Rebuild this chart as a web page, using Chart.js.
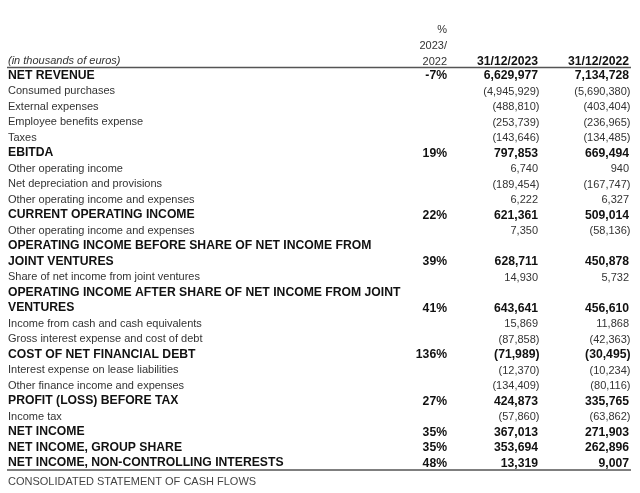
<!DOCTYPE html>
<html><head><meta charset="utf-8">
<script src="https://cdn.jsdelivr.net/npm/chart.js@4.4.1/dist/chart.umd.min.js"></script>
<style>html,body{margin:0;padding:0;background:#fff;}canvas{display:block;}</style>
</head><body>
<canvas id="c" width="640" height="493"></canvas>
<script>
// ---- data ----
const rowLabels = [
  'NET REVENUE',
  'Consumed purchases',
  'External expenses',
  'Employee benefits expense',
  'Taxes',
  'EBITDA',
  'Other operating income',
  'Net depreciation and provisions',
  'Other operating income and expenses',
  'CURRENT OPERATING INCOME',
  'Other operating income and expenses',
  'OPERATING INCOME BEFORE SHARE OF NET INCOME FROM',
  'JOINT VENTURES',
  'Share of net income from joint ventures',
  'OPERATING INCOME AFTER SHARE OF NET INCOME FROM JOINT',
  'VENTURES',
  'Income from cash and cash equivalents',
  'Gross interest expense and cost of debt',
  'COST OF NET FINANCIAL DEBT',
  'Interest expense on lease liabilities',
  'Other finance income and expenses',
  'PROFIT (LOSS) BEFORE TAX',
  'Income tax',
  'NET INCOME',
  'NET INCOME, GROUP SHARE',
  'NET INCOME, NON-CONTROLLING INTERESTS'
];
const isTotal = [true,false,false,false,false,true,false,false,false,true,false,true,true,false,true,true,false,false,true,false,false,true,false,true,true,true];
const pctChange = [-7,null,null,null,null,19,null,null,null,22,null,null,39,null,null,41,null,null,136,null,null,27,null,35,35,48];
const values2023 = [6629977,-4945929,-488810,-253739,-143646,797853,6740,-189454,6222,621361,7350,null,628711,14930,null,643641,15869,-87858,-71989,-12370,-134409,424873,-57860,367013,353694,13319];
const values2022 = [7134728,-5690380,-403404,-236965,-134485,669494,940,-167747,6327,509014,-58136,null,450878,5732,null,456610,11868,-42363,-30495,-10234,-80116,335765,-63862,271903,262896,9007];
const columnHeaders = [['%','2023/','2022'], '31/12/2023', '31/12/2022'];
const unitNote = '(in thousands of euros)';
const footerNote = 'CONSOLIDATED STATEMENT OF CASH FLOWS';

// ---- helpers ----
const FAMILY = 'Arial, "Liberation Sans", sans-serif';
const fmtAmount = v => {
  const s = Math.abs(v).toLocaleString('en-US');
  return v < 0 ? '(' + s + ')' : s;
};
const fmtPct = v => v + '%';

function columnData(arr, col, fmt) {
  const out = [];
  arr.forEach((v, i) => {
    if (v !== null && v !== undefined) out.push({x: col, y: i, t: fmt(v), neg: v < 0 && fmt === fmtAmount, bold: isTotal[i]});
  });
  return out;
}

const cellText = {
  id: 'cellText',
  afterDatasetsDraw(chart) {
    const ctx = chart.ctx;
    ctx.save();
    ctx.textAlign = 'right';
    ctx.textBaseline = 'middle';
    chart.data.datasets.forEach((ds, di) => {
      const meta = chart.getDatasetMeta(di);
      meta.data.forEach((el, j) => {
        const d = ds.data[j];
        ctx.font = (d.bold ? 'bold 12.2px ' : '11px ') + FAMILY;
        ctx.fillStyle = d.bold ? '#111' : '#333';
        ctx.fillText(d.t, el.x + (d.neg ? 1.5 : 0), el.y + 0.5);
      });
    });
    const a = chart.chartArea;
    ctx.strokeStyle = '#555';
    ctx.lineWidth = 1.5;
    ctx.beginPath();
    ctx.moveTo(7, a.top - 8); ctx.lineTo(631, a.top - 8);
    ctx.moveTo(7, a.bottom + 7); ctx.lineTo(631, a.bottom + 7);
    ctx.stroke();
    ctx.textAlign = 'left';
    ctx.fillStyle = '#333';
    ctx.font = 'italic 11px ' + FAMILY;
    ctx.fillText(unitNote, 8, a.top - 14.5);
    ctx.font = '11px ' + FAMILY;
    ctx.fillStyle = '#444';
    ctx.fillText(footerNote, 8, a.bottom + 19);
    ctx.restore();
  }
};

new Chart(document.getElementById('c'), {
  type: 'scatter',
  data: {
    datasets: [
      {data: columnData(pctChange, 0, fmtPct), pointRadius: 0},
      {data: columnData(values2023, 1, fmtAmount), pointRadius: 0},
      {data: columnData(values2022, 2, fmtAmount), pointRadius: 0}
    ]
  },
  options: {
    responsive: false,
    devicePixelRatio: 1,
    animation: false,
    events: [],
    layout: {padding: {left: 8, right: 11, top: 0, bottom: 30}},
    plugins: {legend: {display: false}, tooltip: {enabled: false}, title: {display: false}},
    scales: {
      x: {
        type: 'linear',
        position: 'top',
        min: 0,
        max: columnHeaders.length - 1,
        grid: {display: false},
        border: {display: false},
        afterFit: s => { s.height = 75.5; },
        ticks: {
          stepSize: 1,
          autoSkip: false,
          maxRotation: 0,
          align: 'end',
          padding: -2,
          callback: v => columnHeaders[v],
          font: c => c.tick && c.tick.value === 0
            ? {family: FAMILY, size: 11, weight: 'normal', lineHeight: '16px'}
            : {family: FAMILY, size: 12.2, weight: 'bold', lineHeight: '16px'},
          color: c => c.tick && c.tick.value === 0 ? '#333' : '#111'
        }
      },
      y: {
        type: 'linear',
        position: 'left',
        min: 0,
        max: rowLabels.length - 1,
        reverse: true,
        grid: {display: false},
        border: {display: false},
        afterFit: s => { s.width = 439; },
        ticks: {
          stepSize: 1,
          autoSkip: false,
          crossAlign: 'far',
          callback: v => rowLabels[v],
          font: c => c.tick && isTotal[c.tick.value]
            ? {family: FAMILY, size: 12.2, weight: 'bold'}
            : {family: FAMILY, size: 11, weight: 'normal'},
          color: c => c.tick && isTotal[c.tick.value] ? '#111' : '#333'
        }
      }
    }
  },
  plugins: [cellText]
});
</script>
</body></html>
